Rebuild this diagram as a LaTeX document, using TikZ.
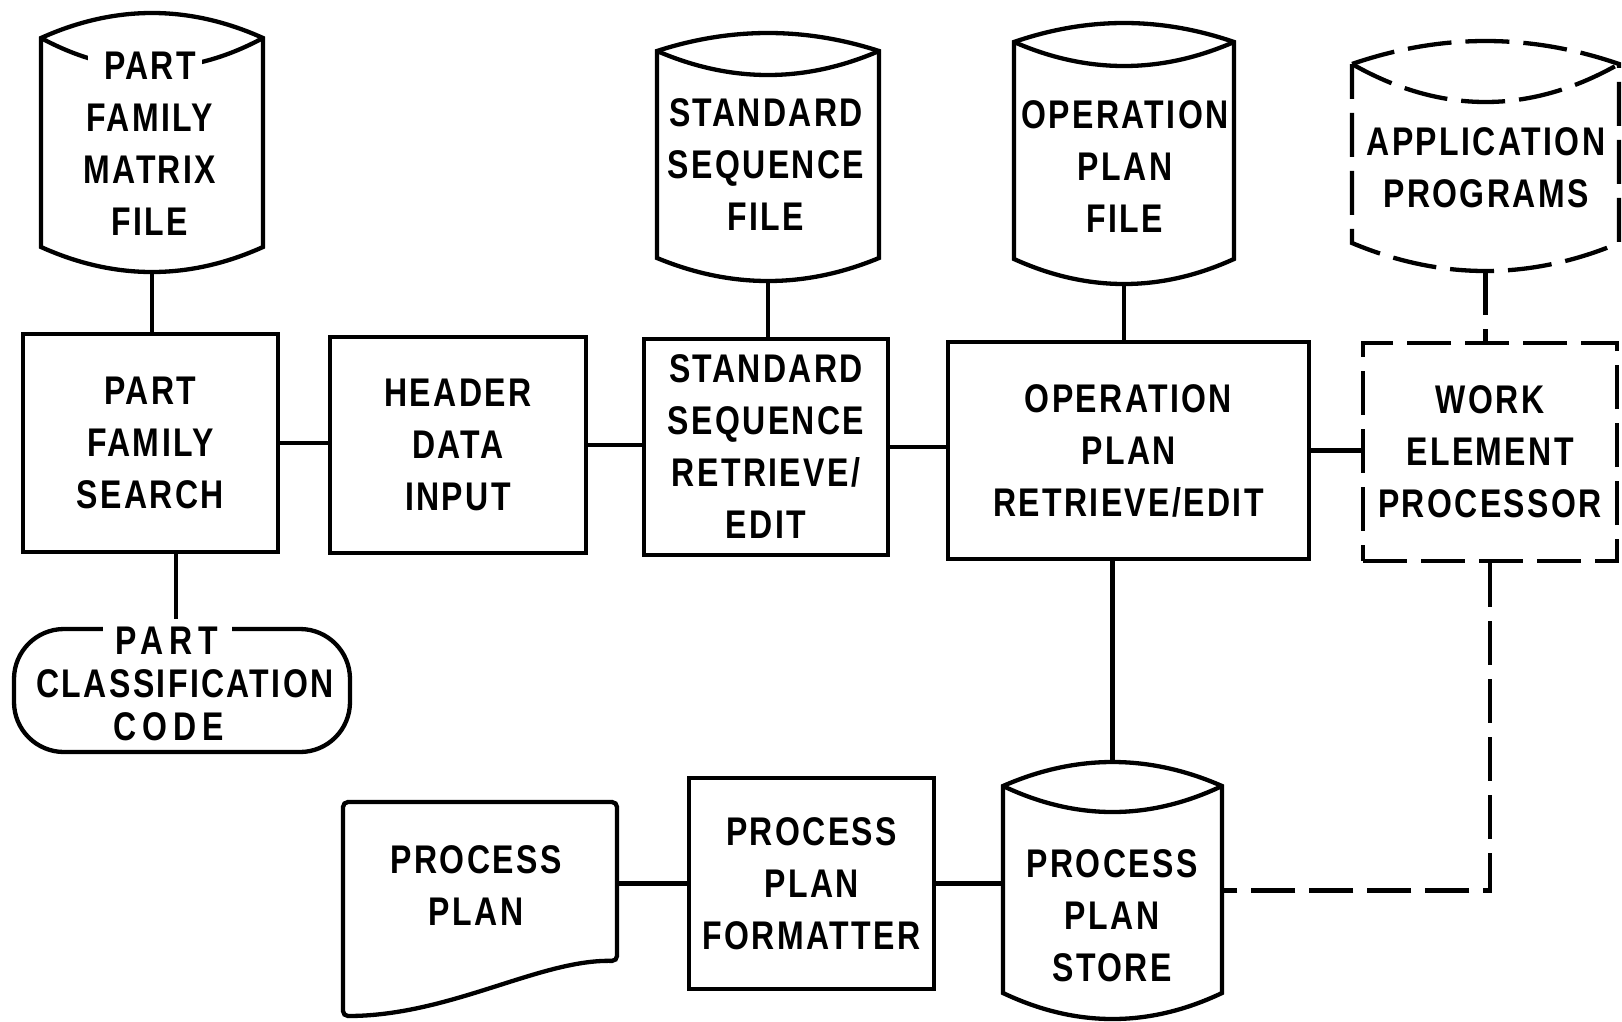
\documentclass[tikz,border=0pt]{standalone}
\usepackage{fontspec}
\newfontfamily\lblfamily{Liberation Sans}[FakeStretch=0.8,LetterSpace=6]
\usetikzlibrary{calc}
\newcommand\lblfont{\lblfamily\bfseries\fontsize{40pt}{52pt}\selectfont}
\newcommand\tightlblfont{\lblfamily\bfseries\fontsize{40pt}{43pt}\selectfont}
\newcommand\widerword[1]{{\addfontfeature{LetterSpace=15}#1}}
% storage drum drawn around a frame node
% #1 node, #2 style, #3 width, #4 top rise, #5 inner dip, #6 bottom depth
\newcommand\drum[6]{%
  \draw[#2]
    ($(#1.north west)+(0,#4)$)
      .. controls ($(#1.north west)+(#3/3,-#4/3)$) and ($(#1.north east)+(-#3/3,-#4/3)$) ..
    ($(#1.north east)+(0,#4)$)
    -- ($(#1.south east)+(0,-#6)$)
      .. controls ($(#1.south east)+(-#3/3,#6/3)$) and ($(#1.south west)+(#3/3,#6/3)$) ..
    ($(#1.south west)+(0,-#6)$)
    -- cycle;
  \draw[#2]
    ($(#1.north west)+(0,#4)$)
      .. controls ($(#1.north west)+(#3/3,#4+4*#5/3)$) and ($(#1.north east)+(-#3/3,#4+4*#5/3)$) ..
    ($(#1.north east)+(0,#4)$);
}
\tikzset{
  lbl/.style={font=\lblfont, align=center, inner sep=0pt},
  tightlbl/.style={font=\tightlblfont, align=center, inner sep=0pt},
  procbox/.style={draw, lbl},
  frame/.style={inner sep=0pt, outer sep=0pt},
  dashline/.style={dash pattern=on 44pt off 14pt},
}
\begin{document}
\begin{tikzpicture}[x=1pt, y=-1pt, line width=4.3pt]
\path[fill=white, use as bounding box] (0,0) rectangle (1622,1021);

% process boxes
\node[procbox, minimum width=255pt, minimum height=218pt] (pfs) at (150.5,443) {PART\\FAMILY\\SEARCH};
\node[procbox, minimum width=256pt, minimum height=216pt] (hdi) at (458,445) {HEADER\\DATA\\INPUT};
\node[procbox, minimum width=244pt, minimum height=216pt] (ssre) at (766,447) {STANDARD\\SEQUENCE\\RETRIEVE/\\EDIT};
\node[procbox, minimum width=361pt, minimum height=217pt] (opre) at (1128.5,450.5) {OPERATION\\PLAN\\RETRIEVE/EDIT};
\node[procbox, dashline, minimum width=254pt, minimum height=218pt] (wep) at (1490,452) {WORK\\ELEMENT\\PROCESSOR};
\node[procbox, minimum width=245pt, minimum height=211pt] (ppf) at (811.5,883.5) {PROCESS\\PLAN\\FORMATTER};

% storage drums
\node[frame, minimum width=222pt, minimum height=259pt] (pfmf) at (152,142.5) {};
\drum{pfmf}{}{222}{25}{30}{25}
\node[frame, minimum width=222pt, minimum height=248pt] (ssf) at (768,157) {};
\drum{ssf}{}{222}{18}{24}{23}
\node[frame, minimum width=220pt, minimum height=261pt] (opf) at (1124,153.5) {};
\drum{opf}{}{220}{19}{24}{25}
\node[frame, minimum width=267pt, minimum height=230pt] (ap) at (1485.5,156) {};
\drum{ap}{dashline}{267}{23}{38}{28}
\node[frame, minimum width=219pt, minimum height=257pt] (pps) at (1112.5,890.5) {};
\drum{pps}{}{219}{24}{26}{26}

% printed document
\node[frame, minimum width=274pt, minimum height=214pt] (doc) at (480,909) {};
\draw[rounded corners=5pt] (doc.north west) -- (doc.north east)
  -- ($(doc.south east)+(0,-55)$)
  .. controls ($(doc.south east)+(-77,-57)$) and ($(doc.south east)+(-167,0)$) .. (doc.south west)
  -- cycle;

% terminal
\node[draw, rounded corners=50pt, minimum width=336pt, minimum height=123pt, inner sep=0pt] (pcc) at (182,690.5) {};

% connectors
\draw (pfmf.south) -- (pfmf.south |- pfs.north);
\draw ([xshift=-6pt]pcc.north |- pfs.south) -- ([xshift=-6pt]pcc.north);
\draw (pfs.east) -- (pfs.east -| hdi.west);
\draw (hdi.east) -- (hdi.east -| ssre.west);
\draw (ssre.east) -- (ssre.east -| opre.west);
\draw (opre.east) -- (opre.east -| wep.west);
\draw (ssf.south) -- (ssf.south |- ssre.north);
\draw (opf.south) -- (opf.south |- opre.north);
\draw[dashline] (ap.south) -- (ap.south |- wep.north);
\draw (pps.north |- opre.south) -- (pps.north);
\draw (ppf.west) -- (ppf.west -| doc.east);
\draw (ppf.east) -- (ppf.east -| pps.west);
\draw[dashline] (wep.south) |- (pps.east);

% gaps where the first word crosses an outline
\fill[white] (88,48) rectangle (202,90);
\fill[white] (103,619) rectangle (232,650);

% texts of the drums, document and terminal
\node[lbl] (pfmf-t) at (150,143.5) {PART\\FAMILY\\MATRIX\\FILE};
\node[lbl] (ssf-t) at (766,164.5) {STANDARD\\SEQUENCE\\FILE};
\node[lbl] (opf-t) at (1125,166.5) {OPERATION\\PLAN\\FILE};
\node[lbl] (ap-t) at (1486,167.5) {APPLICATION\\PROGRAMS};
\node[lbl] (pps-t) at (1112,915.5) {PROCESS\\PLAN\\STORE};
\node[lbl] (doc-t) at (476,885.5) {PROCESS\\PLAN};
\node[tightlbl] (pcc-t) at (185,683.5) {\widerword{PART}\hspace*{37pt}\\CLASSIFICATION\\\widerword{CODE}\hspace*{32pt}};
\end{tikzpicture}
\end{document}
